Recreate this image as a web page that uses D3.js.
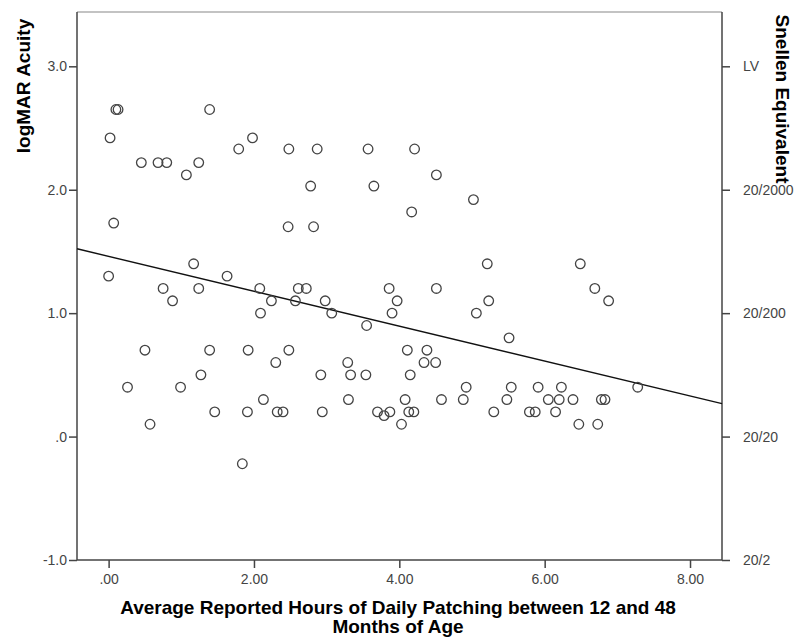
<!DOCTYPE html>
<html>
<head>
<meta charset="utf-8">
<script src="https://d3js.org/d3.v7.min.js"></script>
<style>
  body { margin: 0; background: #fff; }
  text { font-family: Arial, "Liberation Sans", sans-serif; }
  .tick-label { font-size: 14px; fill: #444; }
  .axis-title { font-size: 19px; font-weight: bold; fill: #000; }
</style>
</head>
<body>
<svg id="chart" width="796" height="641"></svg>
<script>
// hours of daily patching (x) and logMAR acuity (y)
var hours = [0.02, 0.10, 0.13, 0.07, 0.00, 0.26, 0.50, 0.57, 0.45, 0.68, 0.80, 1.07, 1.24, 1.39, 1.79, 1.98,
  0.75, 0.88, 1.17, 1.24, 1.63, 0.99, 1.27, 1.39, 1.46, 1.84, 1.91, 1.92, 2.08, 2.09, 2.13, 2.24,
  2.30, 2.32, 2.40, 2.48, 2.47, 2.48, 2.57, 2.61, 2.72, 2.78, 2.82, 2.87, 2.92, 2.94, 2.98, 3.07,
  3.29, 3.30, 3.33, 3.55, 3.54, 3.57, 3.65, 3.70, 3.79, 3.87, 3.86, 3.90, 3.97, 4.03, 4.08, 4.11,
  4.13, 4.15, 4.17, 4.21, 4.20, 4.34, 4.38, 4.50, 4.51, 4.51, 4.58, 4.88, 4.92, 5.02, 5.06, 5.21,
  5.23, 5.30, 5.48, 5.51, 5.54, 5.79, 5.87, 5.91, 6.05, 6.15, 6.20, 6.23, 6.39, 6.47, 6.49, 6.69,
  6.73, 6.78, 6.83, 6.88, 7.28];
var logmar = [2.42, 2.65, 2.65, 1.73, 1.30, 0.40, 0.70, 0.10, 2.22, 2.22, 2.22, 2.12, 2.22, 2.65, 2.33, 2.42,
  1.20, 1.10, 1.40, 1.20, 1.30, 0.40, 0.50, 0.70, 0.20, -0.22, 0.20, 0.70, 1.20, 1.00, 0.30, 1.10,
  0.60, 0.20, 0.20, 0.70, 1.70, 2.33, 1.10, 1.20, 1.20, 2.03, 1.70, 2.33, 0.50, 0.20, 1.10, 1.00,
  0.60, 0.30, 0.50, 0.90, 0.50, 2.33, 2.03, 0.20, 0.17, 0.20, 1.20, 1.00, 1.10, 0.10, 0.30, 0.70,
  0.20, 0.50, 1.82, 2.33, 0.20, 0.60, 0.70, 0.60, 1.20, 2.12, 0.30, 0.30, 0.40, 1.92, 1.00, 1.40,
  1.10, 0.20, 0.30, 0.80, 0.40, 0.20, 0.20, 0.40, 0.30, 0.20, 0.30, 0.40, 0.30, 0.10, 1.40, 1.20,
  0.10, 0.30, 0.30, 1.10, 0.40];

// fit line (intercept, slope) as drawn
var fitLine = [1.46, -0.1414];

var xTicks = [0, 2, 4, 6, 8];
var xTickLabels = [".00", "2.00", "4.00", "6.00", "8.00"];
var yTicks = [3, 2, 1, 0, -1];
var yTickLabels = ["3.0", "2.0", "1.0", ".0", "-1.0"];
var snellenTicks = [3, 2, 1, 0, -1];
var snellenLabels = ["LV", "20/2000", "20/200", "20/20", "20/2"];

var svg = d3.select("#chart");
var pLeft = 77, pRight = 722, pTop = 12, pBottom = 560;
var xMin = -0.435, xMax = 8.44;

var x = d3.scaleLinear().domain([xMin, xMax]).range([pLeft, pRight]);
var y = d3.scaleLinear().domain([-1, 3.44]).range([pBottom, pTop]);

// frame top
svg.append("line").attr("x1", pLeft).attr("x2", pRight).attr("y1", pTop).attr("y2", pTop)
  .attr("stroke", "#888").attr("stroke-width", 1.2);

var xAxis = svg.append("g")
  .attr("transform", "translate(0," + pBottom + ")")
  .call(d3.axisBottom(x).tickValues(xTicks).tickSize(8).tickSizeOuter(0)
    .tickFormat(function(d, i) { return xTickLabels[i]; }));

var yAxis = svg.append("g")
  .attr("transform", "translate(" + pLeft + ",0)")
  .call(d3.axisLeft(y).tickValues(yTicks).tickSize(8).tickSizeOuter(0)
    .tickFormat(function(d, i) { return yTickLabels[i]; }));

var rAxis = svg.append("g")
  .attr("transform", "translate(" + pRight + ",0)")
  .call(d3.axisRight(y).tickValues(snellenTicks).tickSize(8).tickSizeOuter(0)
    .tickFormat(function(d, i) { return snellenLabels[i]; }));

[xAxis, yAxis, rAxis].forEach(function(g) {
  g.attr("font-family", null).attr("font-size", null);
  g.select(".domain").attr("stroke", "#444").attr("stroke-width", 1.5);
  g.selectAll(".tick line").attr("stroke", "#444").attr("stroke-width", 1.5);
  g.selectAll(".tick text").attr("class", "tick-label").attr("fill", null);
});
// domains run over the full frame
xAxis.select(".domain").attr("d", "M" + pLeft + ",0H" + pRight);
yAxis.select(".domain").attr("d", "M0," + pTop + "V" + pBottom);
rAxis.select(".domain").attr("d", "M0," + pTop + "V" + pBottom);
xAxis.selectAll(".tick text").attr("dy", "0.9em");
yAxis.selectAll(".tick text").attr("x", -10);
rAxis.selectAll(".tick text").attr("x", 21);

// regression line
svg.append("line")
  .attr("x1", x(xMin)).attr("y1", y(fitLine[0] + fitLine[1] * xMin))
  .attr("x2", x(xMax)).attr("y2", y(fitLine[0] + fitLine[1] * xMax))
  .attr("stroke", "#111").attr("stroke-width", 1.4);

// points
svg.append("g").selectAll("circle")
  .data(hours)
  .enter()
  .append("circle")
  .attr("cx", function(d) { return x(d); })
  .attr("cy", function(d, i) { return y(logmar[i]); })
  .attr("r", 4.8)
  .attr("fill", "none")
  .attr("stroke", "#444")
  .attr("stroke-width", 1.3);

// titles
svg.append("text").attr("class", "axis-title")
  .attr("transform", "translate(30,86) rotate(-90)")
  .attr("text-anchor", "middle")
  .text("logMAR Acuity");

svg.append("text").attr("class", "axis-title")
  .attr("transform", "translate(776,99) rotate(90)")
  .attr("text-anchor", "middle")
  .text("Snellen Equivalent");

svg.append("text").attr("class", "axis-title")
  .attr("x", 398).attr("y", 614)
  .attr("text-anchor", "middle")
  .text("Average Reported Hours of Daily Patching between 12 and 48");
svg.append("text").attr("class", "axis-title")
  .attr("x", 398).attr("y", 633)
  .attr("text-anchor", "middle")
  .text("Months of Age");
</script>
</body>
</html>
